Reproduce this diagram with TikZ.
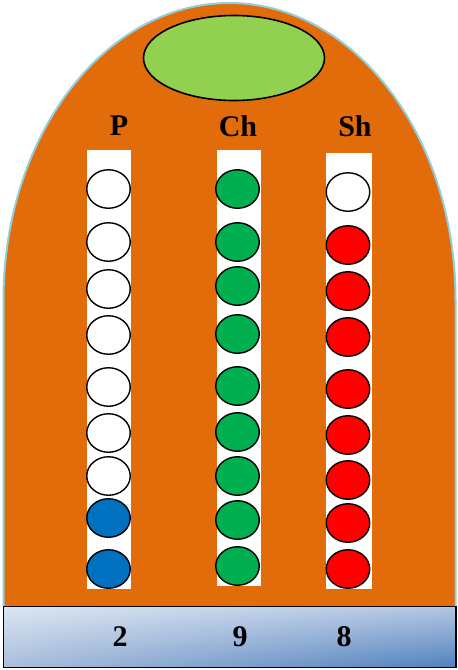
\documentclass[tikz,border=0pt]{standalone}
\usepackage{fontspec}
\setmainfont{Liberation Serif}
\usetikzlibrary{shapes.geometric,shadings}
\definecolor{domefill}{HTML}{E26B0A}
\definecolor{domeline}{HTML}{92CDDC}
\definecolor{topgreen}{HTML}{92D050}
\definecolor{cgreen}{HTML}{00B050}
\definecolor{cred}{HTML}{FF0000}
\definecolor{cblue}{HTML}{0070C0}
\definecolor{shadeA}{HTML}{DCE6F2}
\definecolor{shadeB}{HTML}{B3C6E2}
\definecolor{shadeC}{HTML}{A9BDDC}
\definecolor{shadeD}{HTML}{4F81BD}
\tikzset{
  strip/.style={fill=white, draw=none, inner sep=0pt, minimum width=44pt},
  bead/.style={ellipse, draw=black, line width=1.4pt, inner sep=0pt, minimum width=43.5pt, minimum height=38.5pt},
  label/.style={font=\fontsize{30}{32}\selectfont\bfseries, inner sep=0pt},
  basebox/.style={draw=black, line width=1.5pt, inner sep=0pt, minimum width=452.5pt, minimum height=61pt,
    upper left=shadeA, upper right=shadeB, lower left=shadeC, lower right=shadeD}
}
\begin{document}
\begin{tikzpicture}[x=1pt,y=-1pt]
\useasboundingbox (0,0) rectangle (458,670);
\fill[white] (0,0) rectangle (458,670);
% dome
\draw[draw=domeline, fill=domefill, line width=2pt]
  (3.5,606) -- (3.5,300) .. controls (3.5,136) and (104.7,3) .. (229.5,3)
  .. controls (354.3,3) and (455.5,136) .. (455.5,300) -- (455.5,606);
% top ellipse
\node[ellipse, draw=black, line width=1.6pt, fill=topgreen, inner sep=0pt,
      minimum width=181pt, minimum height=85pt] (head) at (234,58) {};
% column labels
\node[label] (lp) at (119,126) {P};
\node[label] (lch) at (238,126) {Ch};
\node[label] (lsh) at (355,126) {Sh};
% strips
\node[strip, minimum height=439pt] (sp) at (109,369.5) {};
\node[strip, minimum height=436pt] (sch) at (239,368) {};
\node[strip, minimum width=46pt, minimum height=436pt] (ssh) at (349,371) {};
% beads P
\foreach \y/\c [count=\i] in {189/white,242/white,289/white,335/white,387/white,433/white,476/white,518/cblue,569/cblue}
  \node[bead, fill=\c] (p\i) at (108.5,\y) {};
% beads Ch
\foreach \y [count=\i] in {189,242,286,334,386,432,476,520,566}
  \node[bead, fill=cgreen] (ch\i) at (237.5,\y) {};
% beads Sh
\foreach \y/\c [count=\i] in {192/white,245/cred,291/cred,337/cred,389/cred,435/cred,480/cred,523/cred,569/cred}
  \node[bead, fill=\c] (sh\i) at (348,\y) {};
% base box
\node[basebox] (base) at (229.75,637) {};
\node[label] (n2) at (120,637) {2};
\node[label] (n9) at (240,637) {9};
\node[label] (n8) at (344,637) {8};
\end{tikzpicture}
\end{document}
